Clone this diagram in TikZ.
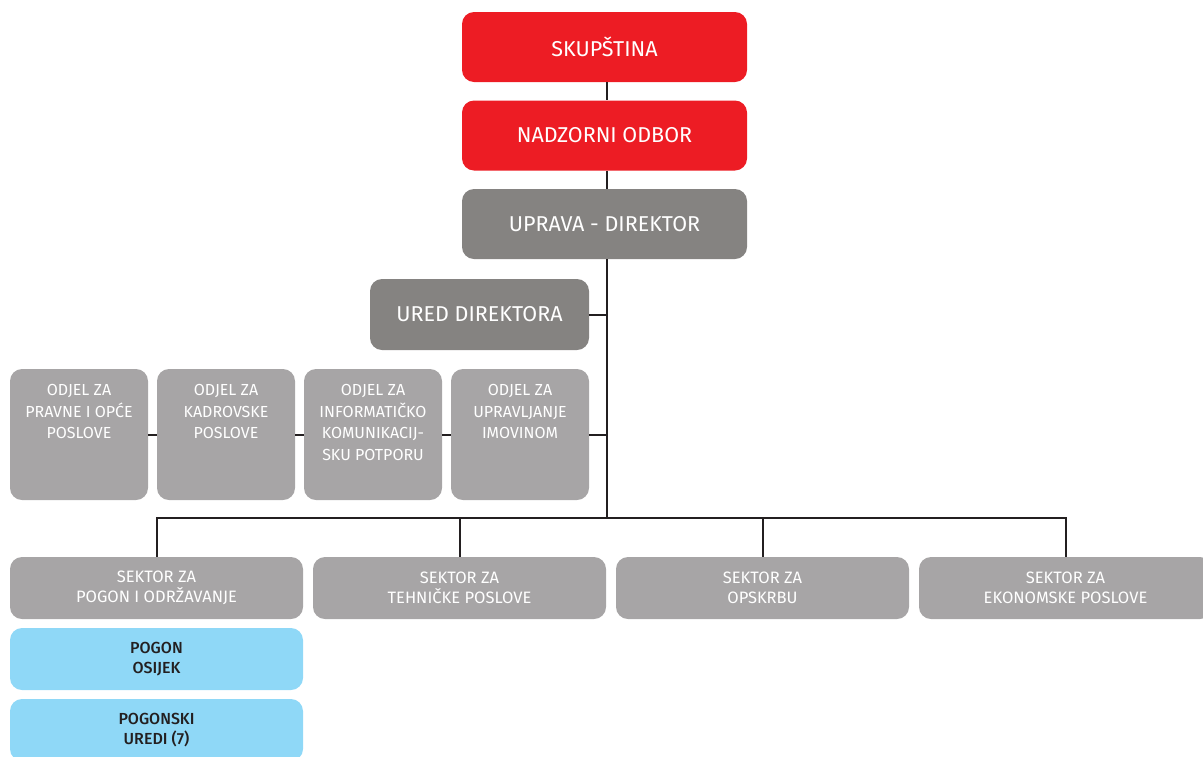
\documentclass[tikz,border=0pt]{standalone}
\usepackage{fontspec}
\setmainfont{Fira Sans}[BoldFont=* Medium]
\definecolor{topred}{HTML}{ED1C24}
\definecolor{darkgray}{HTML}{858381}
\definecolor{lightgray}{HTML}{A7A5A6}
\definecolor{lightblue}{HTML}{8FD8F7}
\definecolor{inkdark}{HTML}{231F20}
\tikzset{
  box/.style={rectangle, rounded corners=12pt, inner sep=0pt, align=center, text=white},
  bigbox/.style={box, minimum width=285pt, minimum height=70pt, font=\fontsize{21.5}{24}\selectfont},
  redbox/.style={bigbox, fill=topred},
  graybox/.style={bigbox, fill=darkgray},
  odjelbox/.style={box, fill=lightgray, minimum width=138pt, minimum height=131pt, font=\fontsize{16}{21.5}\selectfont},
  sektorbox/.style={box, fill=lightgray, minimum width=293pt, minimum height=62pt, font=\fontsize{16.5}{20}\selectfont},
  pogonbox/.style={box, fill=lightblue, text=inkdark, minimum width=293pt, minimum height=62pt, font=\fontsize{16}{20}\selectfont\bfseries},
  link/.style={draw=inkdark, line width=2pt}
}
\newcommand{\odjeltext}[1]{\parbox[c][100pt][t]{136pt}{\centering #1}}
\begin{document}
\begin{tikzpicture}[x=1pt,y=-1pt]
\useasboundingbox (0,0) rectangle (1203,756);

% top of the chart
\node[redbox] (skup) at (604.5,47) {SKUPŠTINA};
\node[redbox] (nadz) at (604.5,135.5) {NADZORNI ODBOR};
\node[graybox] (uprava) at (604.5,224) {UPRAVA - DIREKTOR};
\node[graybox, minimum width=219pt, minimum height=71pt] (ured) at (479.5,314.5) {URED DIREKTORA};

% odjeli
\node[odjelbox] (odjel1) at (79,434.5) {\odjeltext{ODJEL ZA\\PRAVNE I OPĆE\\POSLOVE}};
\node[odjelbox] (odjel2) at (226,434.5) {\odjeltext{ODJEL ZA\\KADROVSKE\\POSLOVE}};
\node[odjelbox] (odjel3) at (373,434.5) {\odjeltext{ODJEL ZA\\INFORMATIČKO\\KOMUNIKACIJ-\\SKU POTPORU}};
\node[odjelbox] (odjel4) at (520,434.5) {\odjeltext{ODJEL ZA\\UPRAVLJANJE\\IMOVINOM}};

% sektori
\node[sektorbox] (sektor1) at (156.5,588) {SEKTOR ZA\\POGON I ODRŽAVANJE};
\node[sektorbox] (sektor2) at (459.5,588) {SEKTOR ZA\\TEHNIČKE POSLOVE};
\node[sektorbox] (sektor3) at (762.5,588) {SEKTOR ZA\\OPSKRBU};
\node[sektorbox] (sektor4) at (1065.5,588) {SEKTOR ZA\\EKONOMSKE POSLOVE};

% pogoni
\node[pogonbox] (pogon) at (156.5,659) {POGON\\OSIJEK};
\node[pogonbox] (uredi) at (156.5,730) {POGONSKI\\UREDI (7)};

% connectors
\coordinate (bus) at (607,518);
\draw[link] (skup.south -| bus) -- (nadz.north -| bus);
\draw[link] (nadz.south -| bus) -- (uprava.north -| bus);
\draw[link] (uprava.south -| bus) -- (bus);
\draw[link] (ured.east) -- (ured.east -| bus);
\draw[link] (odjel1.east) -- (odjel2.west);
\draw[link] (odjel2.east) -- (odjel3.west);
\draw[link] (odjel3.east) -- (odjel4.west);
\draw[link] (odjel4.east) -- (odjel4.east -| bus);
\draw[link] (sektor1.north) |- (sektor4.north |- bus) -- (sektor4.north);
\draw[link] (sektor2.north) -- (sektor2.north |- bus);
\draw[link] (sektor3.north) -- (sektor3.north |- bus);
\end{tikzpicture}
\end{document}
